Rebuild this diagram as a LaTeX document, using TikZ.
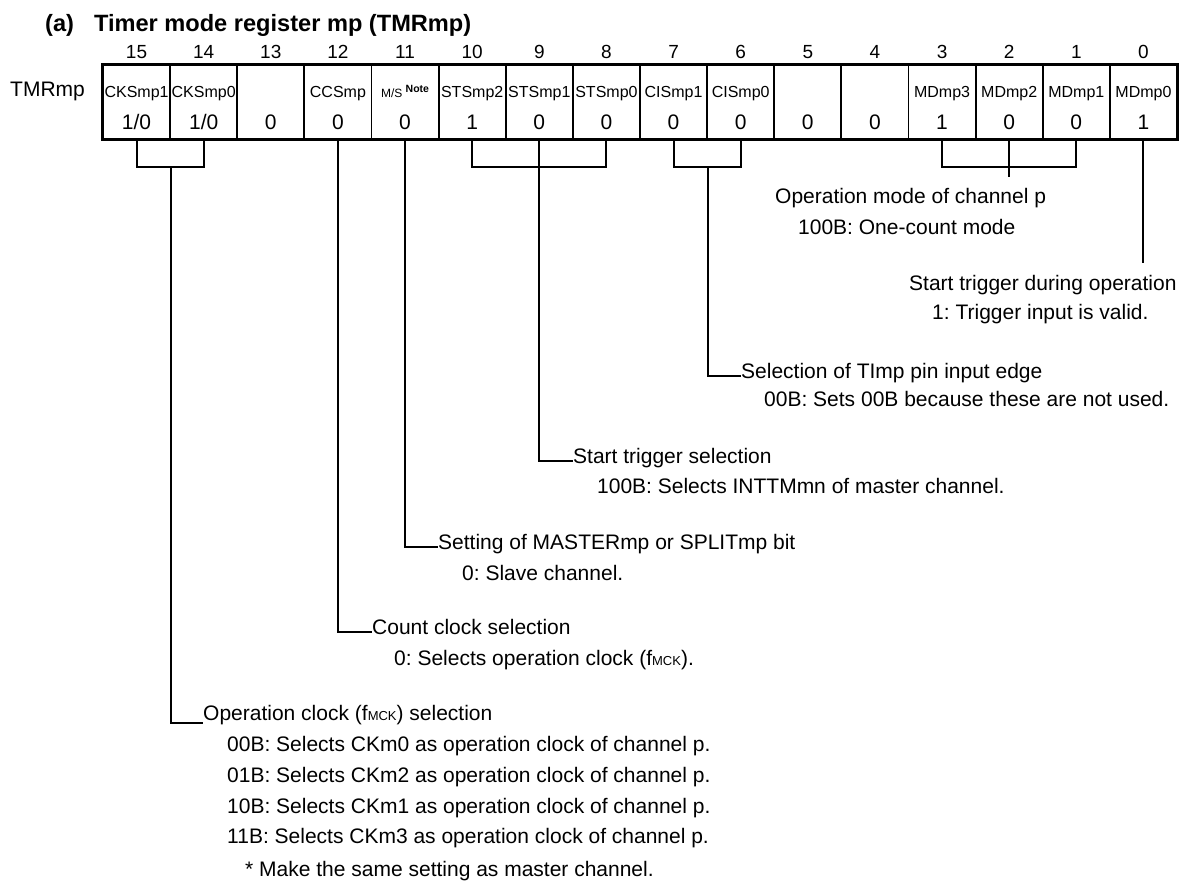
\documentclass[tikz,border=0pt]{standalone}
\usepackage{fontspec}
\setmainfont{Liberation Sans}
\frenchspacing
\begin{document}
\begin{tikzpicture}[x=1pt,y=-1pt,
  txt/.style={font=\fontsize{21}{25}\selectfont, inner sep=0pt, anchor=base west},
  cellbox/.style={draw, line width=1.8pt, minimum width=67.125pt, minimum height=74pt, inner sep=0pt},
  nm/.style={font=\fontsize{16}{18}\selectfont, inner sep=0pt, anchor=base},
  val/.style={font=\fontsize{21}{24}\selectfont, inner sep=0pt, anchor=base},
  bitno/.style={font=\fontsize{19}{22}\selectfont, inner sep=0pt, anchor=base},
  lead/.style={line width=2pt}]
\useasboundingbox (0,0) rectangle (1180,882);
\coordinate (y98) at (0,98);
\coordinate (y130) at (0,130);
\coordinate (y167) at (0,167);
\coordinate (y177) at (0,177);
\coordinate (y263) at (0,263);

% title and register label
\node[font=\fontsize{23.6}{28}\selectfont\bfseries, anchor=base west, inner sep=0pt] (title) at (45,32) {(a)\hspace{20pt}Timer mode register mp (TMRmp)};
\node[txt] (reg) at (10,97) {TMRmp};

% cells and bit numbers
\foreach \b in {0,...,15} {
  \pgfmathsetmacro\cx{103+(15.5-\b)*67.125}
  \node[cellbox] (c\b) at (\cx,102) {};
  \node[bitno] (n\b) at (\cx,59) {\b};
}
\draw[line width=3pt] (c15.north west) rectangle (c0.south east);

% bit names
\foreach \b/\t in {15/CKSmp1,14/CKSmp0,12/CCSmp,10/STSmp2,9/STSmp1,8/STSmp0,7/CISmp1,6/CISmp0,3/MDmp3,2/MDmp2,1/MDmp1,0/MDmp0}
  \node[nm] (m\b) at (c\b.center |- y98) {\t};
\node[nm] (m11) at (c11.center |- y98) {\fontsize{12}{14}\selectfont M/S \raisebox{5pt}{\fontsize{10.5}{12}\selectfont\bfseries Note}};

% values
\node[val] (v15) at (c15.center |- y130) {1/0};
\node[val] (v14) at (c14.center |- y130) {1/0};
\foreach \b/\t in {13/0,12/0,11/0,10/1,9/0,8/0,7/0,6/0,5/0,4/0,3/1,2/0,1/0,0/1}
  \node[val] (v\b) at (c\b.center |- y130) {\t};

% MDmp3..1
\draw[lead] (c3.south) -- (c3.south |- y167) -- (c1.south |- y167) -- (c1.south);
\draw[lead] (c2.south) -- (c2.south |- y177);
\node[txt] (t2a) at (775,204) {Operation mode of channel p};
\node[txt] (t2b) at (798,235) {100B: One-count mode};

% MDmp0
\draw[lead] (c0.south) -- (c0.south |- y263);
\node[txt] (t0a) at (909,291) {Start trigger during operation};
\node[txt] (t0b) at (932,320) {1: Trigger input is valid.};

% CISmp1..0
\node[txt] (t7a) at (741,378) {Selection of TImp pin input edge};
\node[txt] (t7b) at (764,406) {00B: Sets 00B because these are not used.};
\draw[lead] (c7.south) -- (c7.south |- y167) -- (c6.south |- y167) -- (c6.south);
\draw[lead] (c7.south east |- y167) |- ([yshift=2pt]t7a.base west);

% STSmp2..0
\node[txt] (t9a) at (573,463) {Start trigger selection};
\node[txt] (t9b) at (597,493) {100B: Selects INTTMmn of master channel.};
\draw[lead] (c10.south) -- (c10.south |- y167) -- (c8.south |- y167) -- (c8.south);
\draw[lead] (c9.south) |- ([yshift=2pt]t9a.base west);

% M/S
\node[txt] (t11a) at (438,549) {Setting of MASTERmp or SPLITmp bit};
\node[txt] (t11b) at (462,580) {0: Slave channel.};
\draw[lead] (c11.south) |- ([yshift=2pt]t11a.base west);

% CCSmp
\node[txt] (t12a) at (372,634) {Count clock selection};
\node[txt] (t12b) at (394,665) {0: Selects operation clock (f{\fontsize{13}{15}\selectfont MCK}).};
\draw[lead] (c12.south) |- ([yshift=2pt]t12a.base west);

% CKSmp1..0
\node[txt] (t15a) at (203,720) {Operation clock (f{\fontsize{13}{15}\selectfont MCK}) selection};
\node[txt] (t15b) at (227,751) {00B: Selects CKm0 as operation clock of channel p.};
\node[txt] (t15c) at (227,782) {01B: Selects CKm2 as operation clock of channel p.};
\node[txt] (t15d) at (227,813) {10B: Selects CKm1 as operation clock of channel p.};
\node[txt] (t15e) at (227,843) {11B: Selects CKm3 as operation clock of channel p.};
\node[txt] (t15f) at (245,876) {* Make the same setting as master channel.};
\draw[lead] (c15.south) -- (c15.south |- y167) -- (c14.south |- y167) -- (c14.south);
\draw[lead] (c15.south east |- y167) |- ([yshift=-3pt]t15a.base west);
\end{tikzpicture}
\end{document}
